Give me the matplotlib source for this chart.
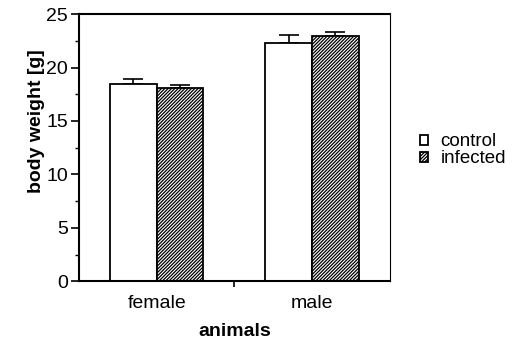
import matplotlib
matplotlib.use('Agg')
from matplotlib import pyplot as plt
import numpy as np

plt.rcParams['font.family'] = ['Liberation Sans', 'DejaVu Sans']
plt.rcParams['hatch.linewidth'] = 0.9

# data
groups = ['female', 'male']
control = [18.5, 22.3]
control_err = [0.4, 0.7]
infected = [18.05, 22.95]
infected_err = [0.3, 0.35]

fig = plt.figure(figsize=(5.18, 3.42), dpi=100)
ax = fig.add_axes([0.1525, 0.177, 0.6, 0.782])

x = np.arange(len(groups)) + 0.5
w = 0.3

ax.bar(x - w/2, control, w, color='white', edgecolor='black', linewidth=1.3,
       label='control', zorder=2)
ax.bar(x + w/2, infected, w, color='white', edgecolor='black', linewidth=1.3,
       hatch='//////////', label='infected', zorder=2)
ax.errorbar(x - w/2, control, yerr=[np.zeros(2), control_err], fmt='none',
            ecolor='black', elinewidth=1.2, capsize=7, capthick=1.2, zorder=1)
ax.errorbar(x + w/2, infected, yerr=[np.zeros(2), infected_err], fmt='none',
            ecolor='black', elinewidth=1.2, capsize=7, capthick=1.2, zorder=1)

ax.set_xlim(0, 2)
ax.set_ylim(0, 25)
ax.set_yticks([0, 5, 10, 15, 20, 25])
ax.set_yticks(np.arange(2.5, 25, 5), minor=True)
ax.set_xticks(x)
ax.set_xticklabels(groups)
ax.set_xticks([1], minor=True)
ax.tick_params(axis='x', which='major', length=0, pad=10, labelsize=14)
ax.tick_params(axis='x', which='minor', length=4, width=1.2, direction='out')
ax.tick_params(axis='y', which='major', length=6, width=1.2, direction='out',
               pad=2, labelsize=14)
ax.tick_params(axis='y', which='minor', length=3, width=1, direction='out')

for s in ['left', 'bottom', 'top']:
    ax.spines[s].set_linewidth(1.5)
ax.spines['right'].set_linewidth(0.8)

ax.set_xlabel('animals', fontsize=14, fontweight='bold', labelpad=8)
ax.set_ylabel('body weight [g]', fontsize=14, fontweight='bold')
ax.yaxis.set_label_coords(-0.11, 0.6)

ax.legend(loc='center left', bbox_to_anchor=(0.811, 0.56),
          bbox_transform=fig.transFigure, frameon=False, fontsize=13.5,
          handlelength=0.4, handleheight=0.4, handletextpad=0.7,
          labelspacing=0.0, borderpad=0, borderaxespad=0)

fig.savefig('out.png', dpi=100)
